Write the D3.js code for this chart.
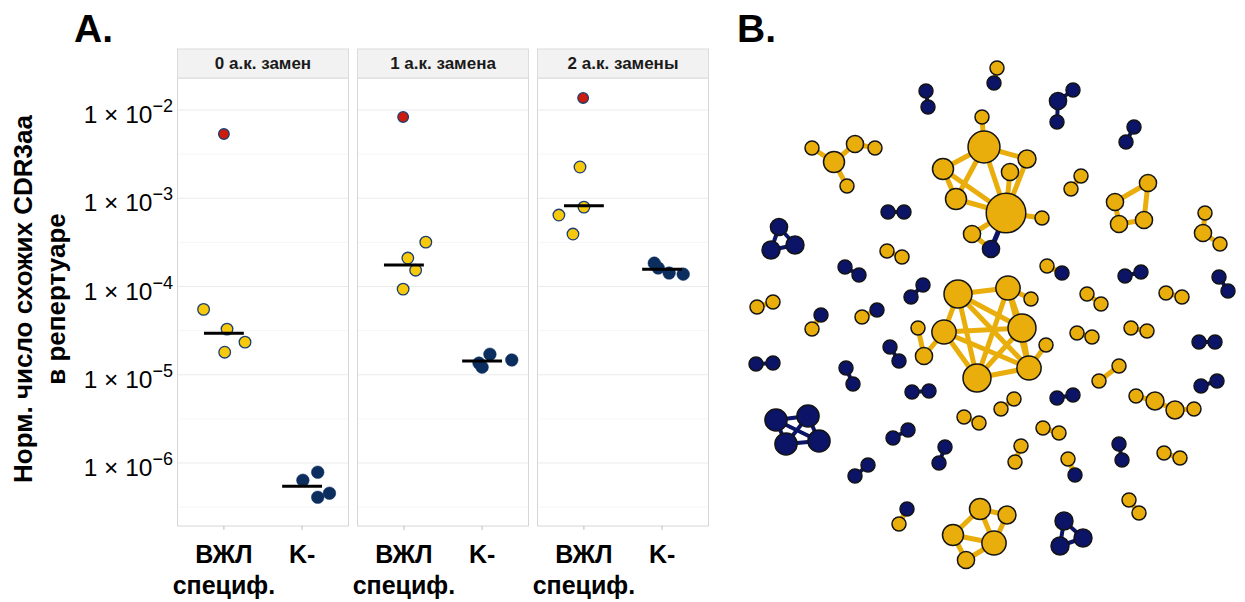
<!DOCTYPE html>
<html><head><meta charset="utf-8">
<script src="https://cdn.jsdelivr.net/npm/d3@7"></script>
<style>
body{margin:0;background:#fff}
svg text{font-family:"Liberation Sans",Arial,Helvetica,sans-serif}
</style>
</head><body>
<svg id="c" width="1245" height="602"></svg>
<script>
// ---------- Panel A data ----------
const facets = ["0 а.к. замен", "1 а.к. замена", "2 а.к. замены"];
const groups = ["ВЖЛ специф.", "K-"];
const groupLabels = [["ВЖЛ", "специф."], ["K-"]];
const yTickExps = [-2, -3, -4, -5, -6];
const yMinorExps = [-2.5, -3.5, -4.5, -5.5, -6.5];

// values per facet (norm. number of similar CDR3aa)
const vzlValues = [
  [5.5e-5, 3.29e-5, 2.34e-5, 1.80e-5],
  [3.18e-4, 2.10e-4, 1.53e-4, 9.35e-5],
  [2.26e-3, 7.94e-4, 6.45e-4, 3.93e-4]
];
const vzlJitter = [[-0.26, 0.04, 0.27, 0.01], [0.28, 0.05, 0.15, -0.01], [-0.05, 0.0, -0.32, -0.14]];
const kValues = [
  [6.38e-7, 7.87e-7, 4.09e-7, 4.55e-7],
  [1.71e-5, 1.355e-5, 1.22e-5, 1.47e-5],
  [1.84e-4, 1.62e-4, 1.42e-4, 1.38e-4]
];
const kJitter = [[0.01, 0.2, 0.2, 0.35], [0.1, -0.04, 0.0, 0.38], [-0.1, -0.05, 0.09, 0.27]];
const outlierValues = [5.34e-3, 8.33e-3, 1.37e-2];
const outlierJitter = [0, -0.01, -0.01];
const vzlMedians = [2.96e-5, 1.75e-4, 8.2e-4];
const kMedians = [5.46e-7, 1.43e-5, 1.57e-4];

// ---------- Panel B data (network layout coordinates, weight, group: 0 = ВЖЛ, 1 = K-) ----------
const netNodes = [
  ["n1",997,68,1,0],["n2",994,83,1,1],
  ["n3",926,91,1,1],["n4",928,107,1,1],
  ["n5",1058,101,1.5,1],["n6",1073,90,1,1],["n7",1057,122,1,1],
  ["n8",1134,127,1,1],["n9",1126,142,1,1],
  ["n10",834,162,2.25,0],["n11",812,148,1,0],["n12",855,144,1.5,0],["n13",875,148,1,0],["n14",847,186,1,0],
  ["n15",982,117,1,0],["n16",984,147,5.2,0],["n17",943,169,2.25,0],["n18",1027,159,1.65,0],["n19",1010,172,1.5,0],
  ["n20",956,199,2.25,0],["n21",1006,213,8,0],["n22",1042,218,1,0],["n23",972,234,1.5,0],["n24",991,249,1.5,1],
  ["n25",888,212,1,1],["n26",904,212,1,1],
  ["n27",887,251,1,0],["n28",902,257,1,0],
  ["n29",779,227,1.5,1],["n30",771,250,1.65,1],["n31",795,245,1.65,1],
  ["n32",1081,176,1,0],["n33",1071,189,1,0],
  ["n34",1148,183,1.5,0],["n35",1115,202,1.5,0],["n36",1119,224,1.5,0],["n37",1144,220,1.5,0],
  ["n38",1205,213,1,0],["n39",1203,233,1.5,0],["n40",1220,244,1,0],
  ["n41",845,267,1,1],["n42",859,275,1,1],
  ["n43",757,307,1,0],["n44",773,302,1,0],
  ["n45",821,315,1,1],["n46",812,329,1,0],
  ["n47",862,317,1,0],["n48",877,310,1,1],
  ["n49",911,297,1,1],["n50",923,285,1,1],
  ["n51",890,347,1,1],["n52",899,361,1,1],
  ["n53",756,364,1,1],["n54",773,363,1,1],
  ["n55",846,368,1,1],["n56",853,384,1,1],
  ["n57",912,392,1,1],["n58",929,391,1,1],
  ["n59",776,420,2.5,1],["n60",808,416,2.5,1],["n61",786,444,2.5,1],["n62",819,441,2.5,1],
  ["n63",893,438,1,1],["n64",908,430,1,1],
  ["n65",945,447,1,1],["n66",939,463,1,1],
  ["n67",855,476,1,1],["n68",868,465,1,1],
  ["n69",907,509,1,1],["n70",899,524,1,0],
  ["n71",964,417,1,0],["n72",979,423,1,0],
  ["n73",958,294,4,0],["n74",1008,288,3,0],["n75",1031,299,1,0],["n76",1022,328,4,0],["n77",944,332,3,0],
  ["n78",918,328,1,0],["n79",924,356,1.5,0],["n80",977,378,4,0],["n81",1029,368,3,0],["n82",1046,345,1,0],
  ["n83",1047,266,1,0],["n84",1062,273,1,1],
  ["n85",1125,276,1,1],["n86",1141,272,1,1],
  ["n87",1219,277,1,1],["n88",1228,291,1,1],
  ["n89",1087,294,1,0],["n90",1101,304,1,0],
  ["n91",1166,293,1,0],["n92",1182,297,1,0],
  ["n93",1077,333,1,0],["n94",1092,337,1,0],
  ["n95",1131,328,1,0],["n96",1147,331,1,0],
  ["n97",1199,342,1,1],["n98",1215,342,1,1],
  ["n99",1119,366,1,0],["n100",1099,381,1,0],
  ["n101",1201,386,1,1],["n102",1217,381,1,1],
  ["n103",1057,398,1,1],["n104",1073,395,1,1],
  ["n105",1136,396,1,0],["n106",1155,401,1.65,0],["n107",1175,410,1.65,0],["n108",1194,409,1,0],
  ["n109",1001,409,1,0],["n110",1014,399,1,0],
  ["n111",1043,428,1,0],["n112",1059,433,1,0],
  ["n113",1021,446,1,0],["n114",1015,462,1,0],
  ["n115",1068,459,1,0],["n116",1075,475,1,1],
  ["n117",1119,444,1,1],["n118",1122,460,1,1],
  ["n119",1164,453,1,0],["n120",1180,458,1,0],
  ["n121",1129,500,1,0],["n122",1139,513,1,0],
  ["n123",1064,521,1.65,1],["n124",1083,538,1.65,1],["n125",1060,546,1.65,1],
  ["n126",980,509,2.25,0],["n127",1007,515,1.65,0],["n128",953,535,2.25,0],["n129",994,543,3,0],["n130",966,560,1.5,0]
];
const netLinks = [
  ["n1","n2"],["n3","n4"],["n5","n6"],["n5","n7"],["n8","n9"],
  ["n10","n11"],["n10","n12"],["n12","n13"],["n10","n14"],
  ["n15","n16"],["n16","n17"],["n16","n20"],["n16","n21"],["n16","n18"],["n17","n20"],["n17","n21"],
  ["n20","n21"],["n18","n21"],["n19","n21"],["n21","n22"],["n21","n23"],["n23","n24"],["n21","n24"],
  ["n25","n26"],["n27","n28"],["n29","n30"],["n29","n31"],["n30","n31"],["n32","n33"],
  ["n34","n35"],["n34","n37"],["n35","n36"],["n36","n37"],["n38","n39"],["n39","n40"],
  ["n41","n42"],["n43","n44"],["n45","n46"],["n47","n48"],["n49","n50"],["n51","n52"],["n53","n54"],
  ["n55","n56"],["n57","n58"],
  ["n59","n60"],["n59","n61"],["n59","n62"],["n60","n61"],["n60","n62"],["n61","n62"],
  ["n63","n64"],["n65","n66"],["n67","n68"],["n69","n70"],["n71","n72"],
  ["n73","n74"],["n73","n76"],["n73","n77"],["n73","n80"],["n73","n81"],["n74","n76"],["n74","n80"],
  ["n74","n75"],["n74","n81"],["n77","n76"],["n77","n80"],["n77","n81"],["n76","n81"],["n80","n81"],["n76","n80"],
  ["n79","n77"],["n78","n79"],["n81","n82"],
  ["n83","n84"],["n85","n86"],["n87","n88"],["n89","n90"],["n91","n92"],["n93","n94"],["n95","n96"],
  ["n97","n98"],["n99","n100"],["n101","n102"],["n103","n104"],
  ["n105","n106"],["n106","n107"],["n107","n108"],
  ["n109","n110"],["n111","n112"],["n113","n114"],["n115","n116"],["n117","n118"],["n119","n120"],["n121","n122"],
  ["n123","n124"],["n123","n125"],["n124","n125"],
  ["n126","n127"],["n126","n128"],["n126","n129"],["n128","n129"],["n128","n130"],["n130","n129"],["n127","n129"]
];

// ---------- Styles ----------
const colYellowA = "#f6c90c", colStrokeA = "#1d3f6f", colRed = "#cc1c0e", colNavyA = "#0c2e5e";
const colYellowB = "#e9ae0c", colNavyB = "#0b1466";

const svg = d3.select("#c");

// ---------- Panel A ----------
const panelTop = 78, panelBottom = 526, stripTop = 49;
const fx = d3.scaleBand().domain(facets).range([177, 709]).paddingInner(8 / 180).paddingOuter(0);
const y = d3.scaleLog().domain([1e-2, 1e-6]).range([110, 463]);
const bw = fx.bandwidth();

svg.append("text").attr("x", 74).attr("y", 42).attr("font-size", 39).attr("font-weight", "bold").text("A.");
svg.append("text").attr("x", 737).attr("y", 42).attr("font-size", 39).attr("font-weight", "bold").text("B.");

facets.forEach((f, i) => {
  const g = svg.append("g").attr("transform", `translate(${fx(f)},0)`);
  const x = d3.scalePoint().domain(groups).range([0, bw]).padding(0.6);
  const step = x.step();

  g.selectAll("line.minor").data(yMinorExps).join("line")
    .attr("x1", 0).attr("x2", bw)
    .attr("y1", d => y(Math.pow(10, d))).attr("y2", d => y(Math.pow(10, d)))
    .attr("stroke", "#f4f4f4").attr("stroke-width", 0.8);
  g.selectAll("line.major").data(yTickExps).join("line")
    .attr("x1", 0).attr("x2", bw)
    .attr("y1", d => y(Math.pow(10, d))).attr("y2", d => y(Math.pow(10, d)))
    .attr("stroke", "#ebebeb").attr("stroke-width", 1.1);
  g.append("rect").attr("x", 0.5).attr("y", panelTop).attr("width", bw - 1).attr("height", panelBottom - panelTop)
    .attr("fill", "none").attr("stroke", "#d6d6d6").attr("stroke-width", 1);
  g.append("rect").attr("x", 0.5).attr("y", stripTop).attr("width", bw - 1).attr("height", panelTop - stripTop)
    .attr("fill", "#f2f2f2").attr("stroke", "#dcdcdc").attr("stroke-width", 1);
  g.append("text").attr("x", bw / 2).attr("y", 69).attr("text-anchor", "middle")
    .attr("font-size", 17).attr("font-weight", "bold").attr("fill", "#1a1a1a").text(f);

  // x ticks and labels
  groups.forEach((gr, j) => {
    g.append("line").attr("x1", x(gr)).attr("x2", x(gr)).attr("y1", panelBottom).attr("y2", panelBottom + 4)
      .attr("stroke", "#bdbdbd").attr("stroke-width", 1);
    groupLabels[j].forEach((ln, k) => {
      g.append("text").attr("x", x(gr)).attr("y", 563 + k * 31).attr("text-anchor", "middle")
        .attr("font-size", 25).attr("font-weight", "bold").attr("fill", "#000").text(ln);
    });
  });

  // points
  const pts = [];
  vzlValues[i].forEach((v, k) => pts.push({x: x(groups[0]) + vzlJitter[i][k] * step, v, t: "v"}));
  kValues[i].forEach((v, k) => pts.push({x: x(groups[1]) + kJitter[i][k] * step, v, t: "k"}));
  pts.push({x: x(groups[0]) + outlierJitter[i] * step, v: outlierValues[i], t: "o"});
  g.selectAll("circle.p").data(pts).join("circle")
    .attr("cx", d => d.x).attr("cy", d => y(d.v))
    .attr("r", d => d.t === "k" ? 6.3 : d.t === "o" ? 5.3 : 5.8)
    .attr("fill", d => d.t === "k" ? colNavyA : d.t === "o" ? colRed : colYellowA)
    .attr("stroke", d => d.t === "k" ? colNavyA : colStrokeA)
    .attr("stroke-width", d => d.t === "k" ? 0.5 : 1.3);

  // medians
  [[groups[0], vzlMedians[i]], [groups[1], kMedians[i]]].forEach(([gr, m]) => {
    g.append("line").attr("x1", x(gr) - 0.255 * step).attr("x2", x(gr) + 0.255 * step)
      .attr("y1", y(m)).attr("y2", y(m)).attr("stroke", "#000").attr("stroke-width", 3);
  });
});

// y-axis tick labels
const yl = svg.append("g");
yTickExps.forEach(e => {
  const t = yl.append("text").attr("x", 173).attr("y", y(Math.pow(10, e)) + 13)
    .attr("text-anchor", "end").attr("font-size", 24.5).attr("fill", "#000");
  t.append("tspan").text("1 × 10");
  t.append("tspan").attr("dy", -11).attr("font-size", 18).text("−" + Math.abs(e));
});
// y title
[["Норм. число схожих CDR3aa", 32], ["в репертуаре", 65]].forEach(([s, xx]) => {
  svg.append("text").attr("transform", `translate(${xx},299) rotate(-90)`).attr("text-anchor", "middle")
    .attr("font-size", 26).attr("font-weight", "bold").text(s);
});

// ---------- Panel B ----------
const nx = d3.scaleLinear().domain([740, 1240]).range([740, 1240]);
const ny = d3.scaleLinear().domain([60, 570]).range([60, 570]);
const nr = d3.scaleSqrt().domain([0, 1]).range([0, 7]);
const nodeById = new Map(netNodes.map(d => [d[0], {x: d[1], y: d[2], w: d[3], g: d[4]}]));
const gB = svg.append("g");
gB.selectAll("line").data(netLinks).join("line")
  .attr("x1", d => nx(nodeById.get(d[0]).x)).attr("y1", d => ny(nodeById.get(d[0]).y))
  .attr("x2", d => nx(nodeById.get(d[1]).x)).attr("y2", d => ny(nodeById.get(d[1]).y))
  .attr("stroke", d => (nodeById.get(d[0]).g === 1 && nodeById.get(d[1]).g === 1) || (nodeById.get(d[1]).g === 1 && nodeById.get(d[0]).w > 4) ? colNavyB : colYellowB)
  .attr("stroke-width", d => nodeById.get(d[0]).g === 1 && nodeById.get(d[1]).g === 1 ? 4 : 5)
  .attr("stroke-linecap", "butt");
gB.selectAll("circle").data(netNodes).join("circle")
  .attr("cx", d => nx(d[1])).attr("cy", d => ny(d[2])).attr("r", d => nr(d[3]))
  .attr("fill", d => d[4] === 1 ? colNavyB : colYellowB)
  .attr("stroke", "#141414").attr("stroke-width", 1.5);
</script>
</body></html>
